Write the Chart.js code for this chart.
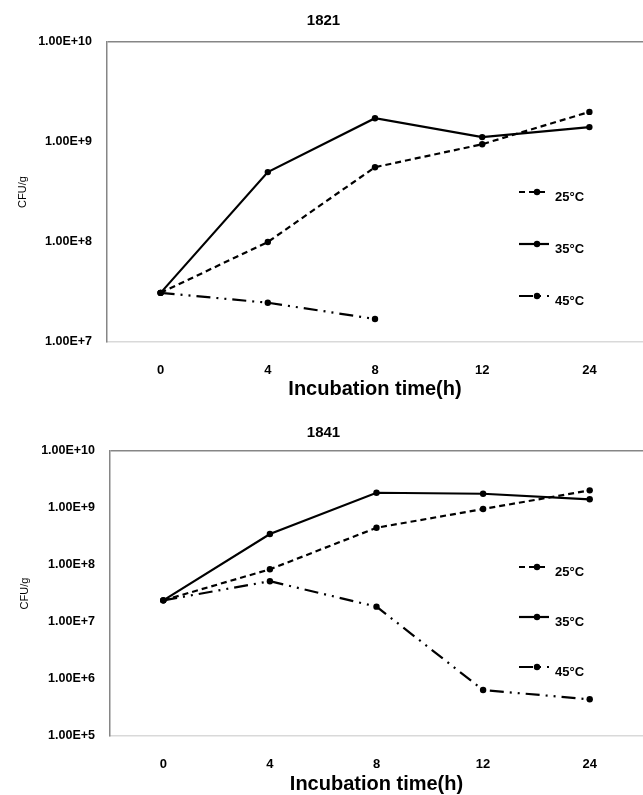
<!DOCTYPE html>
<html>
<head>
<meta charset="utf-8">
<script src="https://cdn.jsdelivr.net/npm/chart.js@4"></script>
<style>
  body { margin: 0; background: #fff; overflow: hidden; }
  .box { position: absolute; left: 0; width: 643px; overflow: hidden; }
</style>
</head>
<body>
<div class="box" style="top:0px; height:400px"><canvas id="chart1821" width="647" height="400"></canvas></div>
<div class="box" style="top:400px; height:395px"><canvas id="chart1841" width="647" height="395"></canvas></div>
<script>
const hours = ['0', '4', '8', '12', '24'];
const tempLabels = ['25°C', '35°C', '45°C'];

// 1821
const s1821_25 = [3.1e7, 1.0e8, 5.6e8, 9.5e8, 2.0e9];
const s1821_35 = [3.1e7, 5.0e8, 1.73e9, 1.12e9, 1.41e9];
const s1821_45 = [3.1e7, 2.47e7, 1.7e7, null, null];
const ticks1821 = [1e7, 1e8, 1e9, 1e10];

// 1841
const s1841_25 = [2.4e7, 8.4e7, 4.5e8, 9.6e8, 2.04e9];
const s1841_35 = [2.4e7, 3.5e8, 1.85e9, 1.78e9, 1.42e9];
const s1841_45 = [2.4e7, 5.2e7, 1.86e7, 6.4e5, 4.4e5];
const ticks1841 = [1e5, 1e6, 1e7, 1e8, 1e9, 1e10];

const FONT = "'Liberation Sans', Arial, sans-serif";
const dashes = [[6, 4], [], [14, 6, 2, 6, 2, 6]];

// legend drawn inside the plot, on the right
const sideLegend = {
  id: 'sideLegend',
  afterDatasetsDraw(chart, args, opts) {
    const ctx = chart.ctx;
    const area = chart.chartArea;
    chart.data.datasets.forEach((ds, i) => {
      const y = area.top + opts.top + i * opts.gap;
      const x0 = area.right - 124, x1 = area.right - 94;
      ctx.save();
      ctx.strokeStyle = '#000';
      ctx.lineWidth = ds.borderWidth;
      ctx.setLineDash(ds.borderDash || []);
      ctx.beginPath();
      ctx.moveTo(x0, y);
      ctx.lineTo(x1, y);
      ctx.stroke();
      ctx.setLineDash([]);
      ctx.fillStyle = '#000';
      ctx.beginPath();
      ctx.arc((x0 + x1) / 2 + 3, y, ds.pointRadius, 0, Math.PI * 2);
      ctx.fill();
      ctx.font = 'bold 13px ' + FONT;
      ctx.textBaseline = 'middle';
      ctx.textAlign = 'left';
      ctx.fillText(ds.label, area.right - 88, y + 5);
      ctx.restore();
    });
  }
};

function makeChart(id, title, series, yTicks, cfg) {
  const yMax = yTicks[yTicks.length - 1];
  new Chart(document.getElementById(id), {
    type: 'line',
    data: {
      labels: hours,
      datasets: series.map((data, i) => ({
        label: tempLabels[i],
        data: data,
        borderColor: '#000',
        backgroundColor: '#000',
        borderWidth: 2.2,
        borderDash: dashes[i],
        pointRadius: 3.2,
        pointBorderWidth: 0,
        tension: 0
      }))
    },
    options: {
      responsive: false,
      animation: false,
      layout: { padding: 0 },
      plugins: {
        legend: { display: false },
        tooltip: { enabled: false },
        title: {
          display: true,
          text: title,
          color: '#000',
          font: { family: FONT, size: 15, weight: 'bold', lineHeight: 1.2 },
          padding: cfg.titlePad
        },
        sideLegend: cfg.legend
      },
      scales: {
        x: {
          type: 'category',
          offset: true,
          grid: { display: false },
          border: { color: '#d9d9d9', width: 1.5 },
          ticks: {
            color: '#000',
            padding: 13,
            font: { family: FONT, size: 13, weight: 'bold' }
          },
          title: {
            display: true,
            text: 'Incubation time(h)',
            color: '#000',
            font: { family: FONT, size: 20, weight: 'bold', lineHeight: 1 },
            padding: { top: 0, bottom: 1 }
          },
          afterFit(scale) { scale.height = cfg.xHeight; }
        },
        y: {
          type: 'logarithmic',
          min: yTicks[0],
          max: yMax,
          grid: {
            drawTicks: false,
            lineWidth: 1.5,
            color: (c) => (c.tick && c.tick.value === yMax ? '#868686' : 'rgba(0,0,0,0)')
          },
          border: { color: '#868686', width: 1.5 },
          afterBuildTicks(scale) { scale.ticks = yTicks.map(v => ({ value: v })); },
          ticks: {
            autoSkip: false,
            color: '#000',
            padding: 15,
            font: { family: FONT, size: 12.5, weight: 'bold' },
            callback: (v) => Number(v).toExponential(2).toUpperCase()
          },
          title: {
            display: true,
            text: 'CFU/g',
            color: '#000',
            font: { family: FONT, size: 11, lineHeight: 1.2 },
            padding: { top: cfg.yTitlePad, bottom: 0 }
          },
          afterFit(scale) { scale.width = cfg.yWidth; }
        }
      }
    },
    plugins: [sideLegend]
  });
}

makeChart('chart1821', '1821', [s1821_25, s1821_35, s1821_45], ticks1821, {
  titlePad: { top: 12, bottom: 12 },
  xHeight: 58,
  yWidth: 107,
  yTitlePad: 16,
  legend: { top: 150, gap: 52 }
});

makeChart('chart1841', '1841', [s1841_25, s1841_35, s1841_45], ticks1841, {
  titlePad: { top: 24, bottom: 9 },
  xHeight: 59,
  yWidth: 110,
  yTitlePad: 18,
  legend: { top: 116, gap: 50 }
});
</script>
</body>
</html>
